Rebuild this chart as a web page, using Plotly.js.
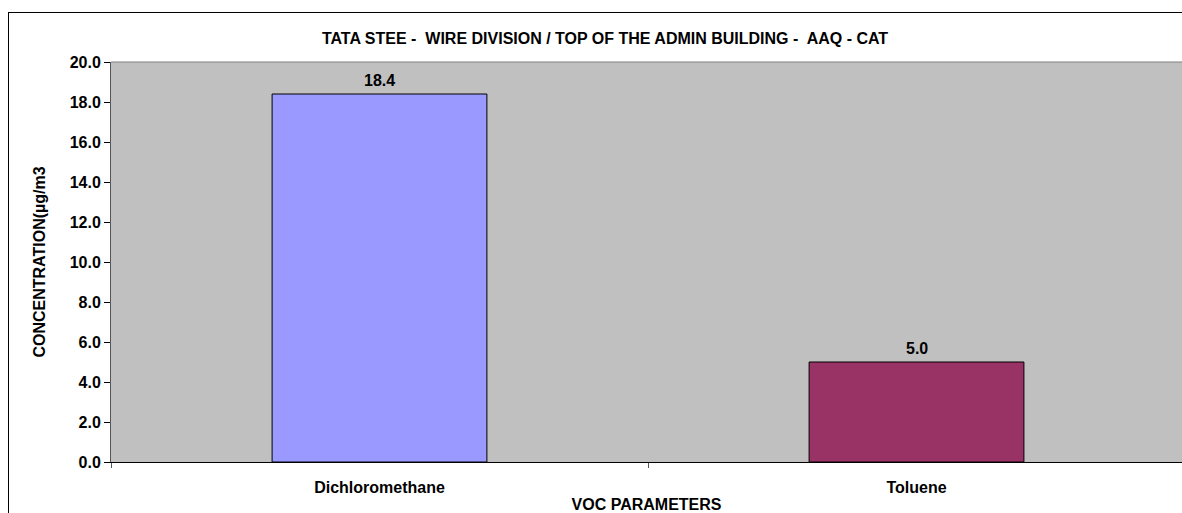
<!DOCTYPE html>
<html>
<head>
<meta charset="utf-8">
<script src="https://cdn.plot.ly/plotly-3.0.1.min.js"></script>
<style>
html,body{margin:0;padding:0;background:#fff;overflow:hidden;}
#wrap{position:relative;width:1182px;height:513px;}
#chart{width:1182px;height:513px;}
#frame{position:absolute;left:8px;top:12px;width:1200px;height:520px;border-left:1px solid #000;border-top:1px solid #000;pointer-events:none;}
</style>
</head>
<body>
<div id="wrap">
<div id="chart"></div>
<div id="frame"></div>
</div>
<script>
const categories = ["Dichloromethane", "Toluene"];
const values = [18.4, 5.0];
const barColors = ["#9999FF", "#993366"];
const chartTitle = "TATA STEE -  WIRE DIVISION / TOP OF THE ADMIN BUILDING -  AAQ - CAT";
const xTitle = "VOC PARAMETERS";
const yTitle = "CONCENTRATION(µg/m3";

const FONT = "Liberation Sans, Arial, Helvetica, sans-serif";

const trace = {
  type: "bar",
  x: categories,
  y: values,
  marker: { color: barColors, line: { color: "#000000", width: 1 } },
  hoverinfo: "x+y"
};

const annotations = categories.map((c, i) => ({
  x: c, y: values[i], xref: "x", yref: "y",
  text: values[i].toFixed(1),
  showarrow: false, yanchor: "bottom", yshift: 3,
  font: { family: FONT, size: 16, color: "#000", weight: "bold" }
}));

const layout = {
  width: 1182, height: 513,
  margin: { l: 111, r: 0, t: 62, b: 51 },
  paper_bgcolor: "#FFFFFF",
  plot_bgcolor: "#C0C0C0",
  bargap: 0.6,
  showlegend: false,
  title: {
    text: chartTitle,
    x: 605 / 1182, xref: "container", xanchor: "center",
    y: 1 - 38 / 513, yref: "container", yanchor: "middle",
    font: { family: FONT, size: 16, color: "#000", weight: "bold" }
  },
  xaxis: {
    type: "category",
    range: [-0.5, 1.4944],
    tickson: "boundaries",
    ticks: "outside", ticklen: 5, tickcolor: "#555",
    ticklabelstandoff: 11,
    showline: true, linecolor: "#000", linewidth: 1,
    showgrid: false, zeroline: false,
    tickfont: { family: FONT, size: 16, color: "#000", weight: "bold" },
    title: { text: xTitle, standoff: 3,
      font: { family: FONT, size: 16, color: "#000", weight: "bold" } }
  },
  yaxis: {
    range: [0, 20], dtick: 2, tick0: 0, tickformat: ".1f",
    ticks: "outside", ticklen: 6, tickcolor: "#000",
    showline: true, linecolor: "#555", linewidth: 1,
    showgrid: false, zeroline: false,
    tickfont: { family: FONT, size: 16, color: "#000", weight: "bold" },
    title: { text: yTitle, standoff: 20,
      font: { family: FONT, size: 16, color: "#000", weight: "bold" } }
  },
  annotations: annotations,
  shapes: [
    { type: "line", xref: "paper", yref: "paper",
      x0: 0, x1: 1, y0: 1, y1: 1,
      line: { color: "#808080", width: 1 } }
  ]
};

Plotly.newPlot("chart", [trace], layout, { displayModeBar: false, staticPlot: true });
</script>
</body>
</html>
